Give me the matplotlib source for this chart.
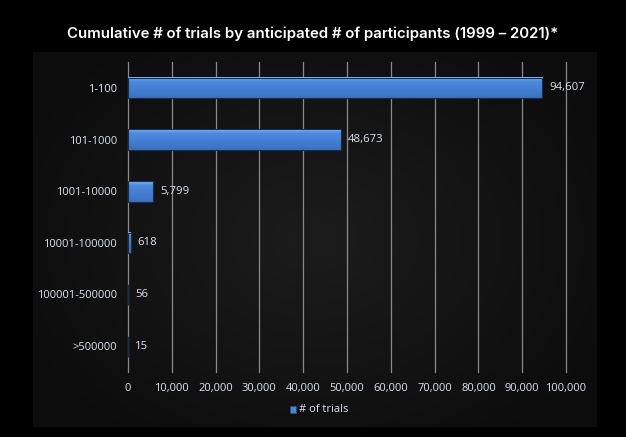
import matplotlib
matplotlib.use('Agg')
import matplotlib.pyplot as plt
import numpy as np
from matplotlib.patches import Rectangle
from matplotlib.ticker import FuncFormatter

categories = ['1-100', '101-1000', '1001-10000', '10001-100000', '100001-500000', '>500000']
trials = [94607, 48673, 5799, 618, 56, 15]
x_ticks = list(range(0, 100001, 10000))
title = 'Cumulative # of trials by anticipated # of participants (1999 \u2013 2021)*'
series_name = '# of trials'

txt = '#dbe3ee'
grid_col = '#8a8a8a'

fig = plt.figure(figsize=(6.26, 4.37), dpi=100, facecolor='black')

# chart area background with soft gradient
bg = fig.add_axes([33 / 626, (437 - 427) / 437, (597 - 33) / 626, (427 - 52) / 437])
gx = np.linspace(-1, 1, 300)
gy = np.linspace(-1, 1, 200)
GX, GY = np.meshgrid(gx, gy)
r = np.sqrt(GX ** 2 * 0.8 + GY ** 2 * 0.6)
shade = 0.11 - 0.06 * np.clip(r, 0, 1)
bg.imshow(np.dstack([shade, shade, shade]), aspect='auto', extent=[0, 1, 0, 1])
bg.set_axis_off()

ax = fig.add_axes([128 / 626, (437 - 372) / 437, (566 - 128) / 626, (372 - 62) / 437])
ax.set_facecolor('none')

y = np.arange(len(categories))
h = 0.4
bars = ax.barh(y, trials, height=h, facecolor='none', edgecolor='#1a2c4c', linewidth=0.8, zorder=4)

grad = np.linspace(0, 1, 50)[:, None]
top = np.array([0.50, 0.73, 0.98])
mid = np.array([0.30, 0.55, 0.88])
bot = np.array([0.23, 0.44, 0.76])
cols = np.where(grad[..., None] < 0.18,
                top + (mid - top) * (grad[..., None] / 0.18),
                mid + (bot - mid) * ((grad[..., None] - 0.18) / 0.82))
for b in bars:
    x0, y0 = b.get_x(), b.get_y()
    w, hh = b.get_width(), b.get_height()
    ax.imshow(cols, extent=[x0, x0 + w, y0 + hh, y0], aspect='auto', zorder=3, interpolation='bilinear')

for yi, v in zip(y, trials):
    ax.annotate(f'{v:,}', (v, yi), xytext=(5, 0), textcoords='offset points',
                va='center', ha='left', color=txt, fontsize=8.2, family='Open Sans', zorder=5)

ax.set_xlim(0, 100000)
ax.set_ylim(len(categories) - 0.5, -0.5)
ax.set_xticks(x_ticks)
ax.xaxis.set_major_formatter(FuncFormatter(lambda v, p: f'{int(v):,}'))
ax.set_yticks(y)
ax.set_yticklabels(categories)
ax.grid(axis='x', color=grid_col, linewidth=0.9, zorder=1)
for gl in ax.get_xgridlines():
    gl.set_clip_on(False)
ax.set_axisbelow(True)
for s in ax.spines.values():
    s.set_visible(False)
ax.axvline(0, color=grid_col, linewidth=1.2, zorder=2)
ax.tick_params(axis='both', length=0, colors=txt, labelsize=8)
ax.tick_params(axis='x', pad=8)
ax.tick_params(axis='y', pad=8)
for lab in ax.get_xticklabels() + ax.get_yticklabels():
    lab.set_family('Open Sans')

fig.text(313 / 626, 1 - 34 / 437, title, ha='center', va='center', color='white',
         fontsize=10.8, family='Inter', fontweight='semibold')

# legend
fig.patches.append(Rectangle((290 / 626, (437 - 413) / 437), 6 / 626, 7 / 437,
                             transform=fig.transFigure, facecolor='#4a86d8', edgecolor='#2a4a80', linewidth=0.5))
fig.text(299 / 626, 1 - 410 / 437, series_name, ha='left', va='center', color=txt,
         fontsize=8, family='Open Sans')

fig.savefig('out.png', dpi=100, facecolor='black')
